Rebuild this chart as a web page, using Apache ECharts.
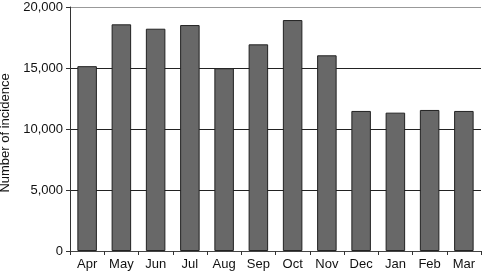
<!DOCTYPE html>
<html><head><meta charset="utf-8">
<script src="https://cdn.jsdelivr.net/npm/echarts@6/dist/echarts.min.js"></script>
<style>html,body{margin:0;padding:0;background:#fff}#c{width:483px;height:273px}</style>
</head><body><div id="c"></div>
<script>
const months = ["Apr","May","Jun","Jul","Aug","Sep","Oct","Nov","Dec","Jan","Feb","Mar"];
const incidence = [15150,18580,18220,18520,14980,16940,18930,16040,11480,11340,11560,11480];
const yTicks = [0,5000,10000,15000,20000];
const yTitle = "Number of incidence";

const chart = echarts.init(document.getElementById('c'));
chart.setOption({
  animation:false,
  grid:{left:70,right:2,top:7,bottom:22,containLabel:false,outerBoundsMode:'none'},
  xAxis:{type:'category',data:months,
    axisLine:{show:true,lineStyle:{color:'#444',width:1}},
    axisTick:{show:true,alignWithLabel:false,length:4,lineStyle:{color:'#333'}},
    axisLabel:{color:'#111',fontSize:13,fontFamily:'Liberation Sans, Arial',margin:7}},
  yAxis:{type:'value',min:yTicks[0],max:yTicks[yTicks.length-1],interval:5000,
    name:yTitle,nameLocation:'middle',nameGap:55,
    nameTextStyle:{color:'#111',fontSize:13,fontFamily:'Liberation Sans, Arial',padding:[0,8,0,0]},
    axisLine:{show:true,lineStyle:{color:'#333'}},
    axisTick:{show:true,length:4,lineStyle:{color:'#333'}},
    axisLabel:{color:'#111',fontSize:13,fontFamily:'Liberation Sans, Arial',margin:7,
      formatter:v=>v.toLocaleString('en-US')},
    splitLine:{show:true,lineStyle:{color:['#222','#222','#222','#222','#999'],width:1}}},
  series:[{type:'bar',data:incidence,barWidth:'57%',
    itemStyle:{color:'#686868',borderColor:'#222',borderWidth:1}}]
});
</script></body></html>
